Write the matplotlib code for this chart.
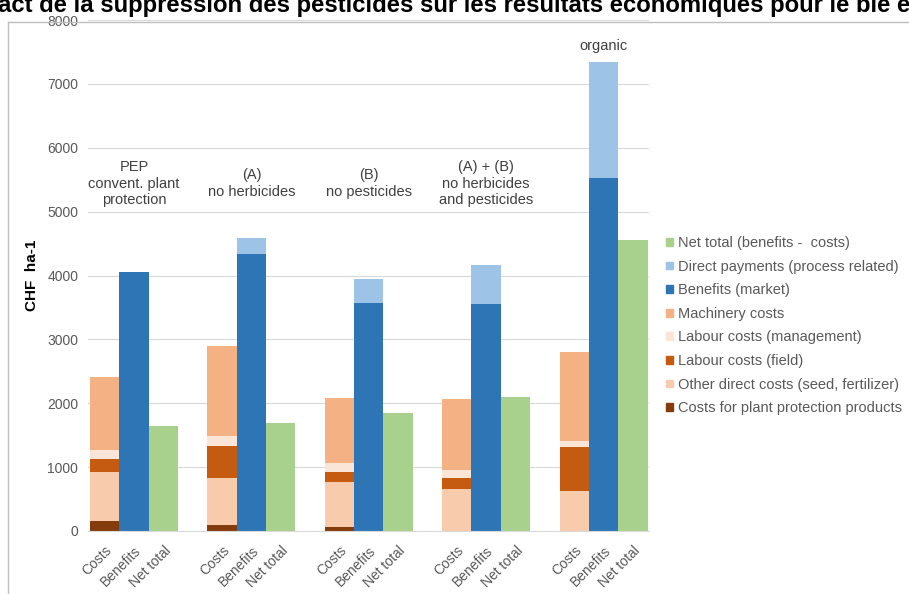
import numpy as np
import matplotlib
matplotlib.use("Agg")
import matplotlib.pyplot as plt
from matplotlib.patches import Patch
from matplotlib.lines import Line2D

plt.rcParams['font.family'] = ['Liberation Sans', 'DejaVu Sans']

# scenario labels (shown above each group of bars)
groups = ['PEP\nconvent. plant\nprotection', '(A)\nno herbicides', '(B)\nno pesticides',
          '(A) + (B)\nno herbicides\nand pesticides', 'organic']
bar_names = ['Costs', 'Benefits', 'Net total']

# cost components, CHF ha-1 (bottom to top of the "Costs" bar)
plant_protection = [150, 90, 55, 0, 0]
other_direct = [780, 740, 710, 650, 630]
labour_field = [190, 500, 160, 180, 680]
labour_mgmt = [150, 160, 140, 130, 100]
machinery = [1140, 1400, 1025, 1100, 1390]

# benefits, CHF ha-1
benefits_market = [4050, 4340, 3570, 3550, 5520]
direct_payments = [0, 245, 375, 610, 1830]

# net total, CHF ha-1
net_total = [1640, 1690, 1855, 2100, 4550]

colors = {
    'prot': '#843C0C', 'other': '#F8CBAD', 'field': '#C55A11', 'mgmt': '#FBE5D6',
    'mach': '#F4B183', 'market': '#2E75B6', 'pay': '#9DC3E6', 'net': '#A9D18E',
}

fig = plt.figure(figsize=(9.09, 5.94), dpi=100)
ax = fig.add_axes([88 / 909, 63 / 594, 561 / 909, 511 / 594])

n = len(groups)
x_cost = np.arange(n) * 4
x_ben = x_cost + 1
x_net = x_cost + 2

bottom = np.zeros(n)
for vals, key in [(plant_protection, 'prot'), (other_direct, 'other'), (labour_field, 'field'),
                  (labour_mgmt, 'mgmt'), (machinery, 'mach')]:
    ax.bar(x_cost, vals, width=1.0, bottom=bottom, color=colors[key], linewidth=0)
    bottom += np.array(vals)

ax.bar(x_ben, benefits_market, width=1.0, color=colors['market'], linewidth=0)
ax.bar(x_ben, direct_payments, width=1.0, bottom=benefits_market, color=colors['pay'], linewidth=0)
ax.bar(x_net, net_total, width=1.0, color=colors['net'], linewidth=0)

# scenario labels
for i, g in enumerate(groups):
    y = 7600 if g == 'organic' else 5440
    ax.text(x_ben[i], y, g, ha='center', va='center', fontsize=10.5, color='#404040',
            linespacing=1.2)

ax.set_xlim(-0.57, 18.55)
ax.set_ylim(0, 8000)
ax.set_yticks(np.arange(0, 8001, 1000))
ax.yaxis.grid(True, color='#D9D9D9', linewidth=0.8)
ax.set_axisbelow(True)
for s in ['top', 'right', 'left']:
    ax.spines[s].set_visible(False)
ax.spines['bottom'].set_color('#D9D9D9')
ax.tick_params(axis='both', length=0, colors='#595959', labelsize=10)
ax.tick_params(axis='y', pad=7)

ticks = np.concatenate([x_cost, x_ben, x_net])
labels = [bar_names[0]] * n + [bar_names[1]] * n + [bar_names[2]] * n
ax.set_xticks(ticks)
ax.set_xticklabels(labels, rotation=45, ha='right', rotation_mode='anchor')
ax.tick_params(axis='x', pad=9)

ax.set_ylabel('CHF  ha-1', fontsize=11, fontweight='bold', color='#000000', labelpad=6)

# legend
handles = [
    Patch(color=colors['net'], label='Net total (benefits -  costs)'),
    Patch(color=colors['pay'], label='Direct payments (process related)'),
    Patch(color=colors['market'], label='Benefits (market)'),
    Patch(color=colors['mach'], label='Machinery costs'),
    Patch(color=colors['mgmt'], label='Labour costs (management)'),
    Patch(color=colors['field'], label='Labour costs (field)'),
    Patch(color=colors['other'], label='Other direct costs (seed, fertilizer)'),
    Patch(color=colors['prot'], label='Costs for plant protection products'),
]
leg = fig.legend(handles=handles, loc='upper left', bbox_to_anchor=(666 / 909, 1 - 236 / 594),
                 frameon=False, fontsize=10.5, handlelength=0.45, handleheight=0.45,
                 handletextpad=0.35, labelspacing=0.66, borderaxespad=0, borderpad=0)
for t in leg.get_texts():
    t.set_color('#595959')

# title (cropped in the original screenshot)
fig.text(0.5, 1 - 12 / 594, 'act de la suppression des pesticides sur les résultats économiques pour le blé e',
         ha='center', va='baseline', fontsize=17.2, fontweight='bold')

# chart frame
fig.add_artist(Line2D([8 / 909, 1], [1 - 22 / 594, 1 - 22 / 594], color='#BFBFBF', linewidth=1))
fig.add_artist(Line2D([8 / 909, 8 / 909], [0, 1 - 22 / 594], color='#BFBFBF', linewidth=1))

fig.savefig('out.png', dpi=100)
